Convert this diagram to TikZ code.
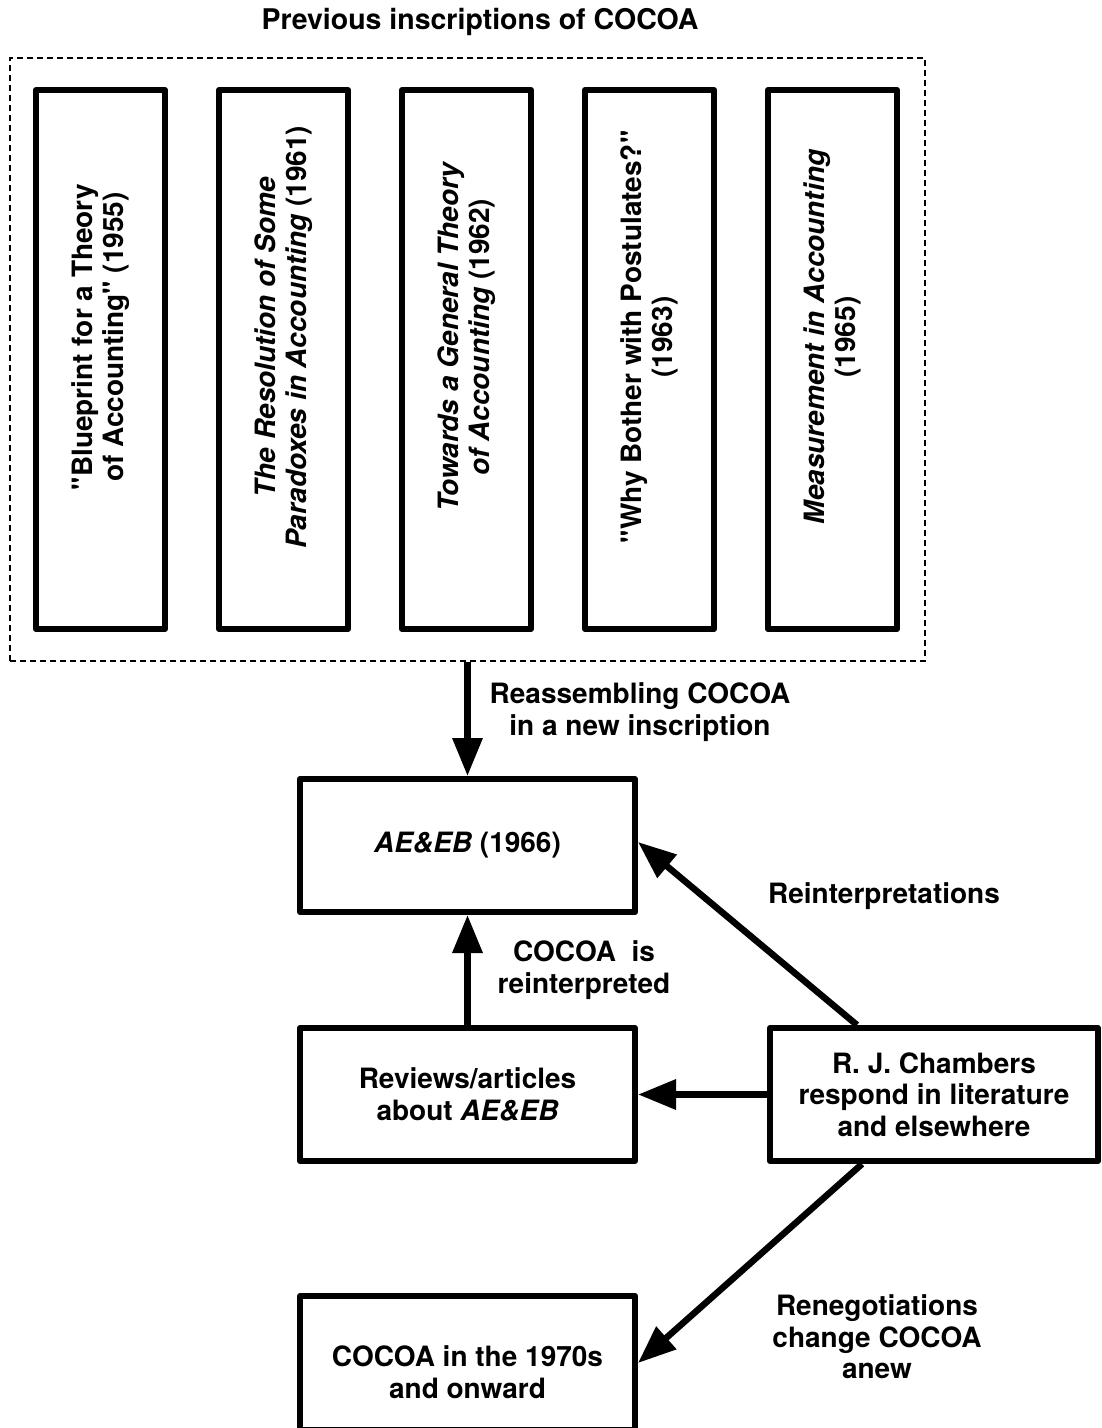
\documentclass[tikz,border=0pt]{standalone}
\usepackage{fontspec}
\setmainfont{TeX Gyre Heros}[Ligatures=TeXOff]
\usetikzlibrary{arrows.meta}
\newcommand{\dq}{\symbol{"22}}
\begin{document}
\begin{tikzpicture}[x=1pt,y=-1pt,
  every node/.style={font=\fontsize{28}{31.5}\selectfont\bfseries, align=center, inner sep=0pt},
  box/.style={draw, line width=6pt, line join=round, minimum width=335pt, minimum height=133pt},
  vbox/.style={draw, line width=6pt, line join=round, minimum width=129pt, minimum height=539pt},
  vtext/.style={rotate=90},
  groupframe/.style={draw, line width=2pt, dash pattern=on 6pt off 4pt},
  conn/.style={line width=6.5pt, -{Triangle[length=38pt,width=29pt]}},
]
\useasboundingbox (0,0) rectangle (1102,1428);

% group of earlier publications
\node[font=\fontsize{28.5}{32}\selectfont\bfseries] (title) at (480,22) {Previous inscriptions of COCOA};
\node[groupframe, minimum width=915pt, minimum height=603pt] (prev) at (467.5,359.5) {};

\node[vbox] (p1) at (100.5,359.5) {};
\node[vbox] (p2) at (283.5,359.5) {};
\node[vbox] (p3) at (466.5,359.5) {};
\node[vbox] (p4) at (649.5,359.5) {};
\node[vbox] (p5) at (832.5,359.5) {};

\node[vtext] (t1) at (100.5,337) {\dq Blueprint for a Theory\\of Accounting\dq{} (1955)};
\node[vtext] (t2) at (283.5,337) {\itshape The Resolution of Some\\\itshape Paradoxes in Accounting\upshape{} (1961)};
\node[vtext] (t3) at (466.5,337) {\itshape Towards a General Theory\\\itshape of Accounting\upshape{} (1962)};
\node[vtext] (t4) at (649.5,337) {\dq Why Bother with Postulates?\dq\\(1963)};
\node[vtext] (t5) at (832.5,337) {\itshape Measurement in Accounting\\(1965)};

% main boxes
\node[box] (ae) at (467.5,845.5) {\itshape AE\&EB\upshape{} (1966)};
\node[box] (rev) at (467.5,1094.5) {Reviews/articles\\about \itshape AE\&EB};
\node[box, minimum width=328pt] (cham) at (934,1094.5) {R. J. Chambers\\respond in literature\\and elsewhere};
\node[box, minimum height=134pt] (c70) at (467.5,1363) {};
\node (c70text) at (467.5,1372) {COCOA in the 1970s\\and onward};

% connectors
\draw[conn] (prev.south) -- (ae.north);
\draw[conn] (rev.north) -- (ae.south);
\draw[conn] (cham.west) -- (rev.east);
\draw[conn] ([xshift=-77pt]cham.north) -- ([yshift=3.5pt]ae.east);
\draw[conn] ([xshift=-72pt]cham.south) -- (c70.east);

% connector labels
\node (l1) at (640,712) {Reassembling COCOA\\in a new inscription};
\node (l2) at (884,896) {Reinterpretations};
\node (l3) at (584,970) {COCOA\ \ is\\reinterpreted};
\node (l4) at (877,1337) {Renegotiations\\change COCOA\\anew};
\end{tikzpicture}
\end{document}
